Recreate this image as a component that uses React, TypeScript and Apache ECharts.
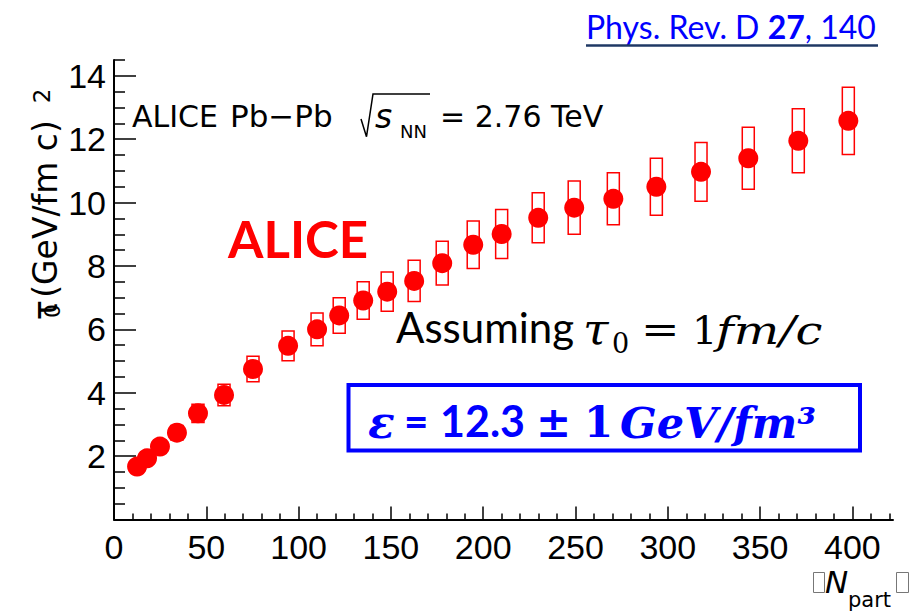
import React, { useEffect, useRef } from 'react';
import * as echarts from 'echarts';

// ---- data ----
const nPart = [12.5, 17.9, 24.9, 34.1, 45.5, 59.6, 75.3, 94.3, 110, 122, 135, 148, 162.6, 177.8, 194.6, 210, 229.8, 249.3, 270.5, 293.8, 318, 343.6, 370.7, 397.8];
const energyDensity = [1.67, 1.93, 2.3, 2.74, 3.35, 3.93, 4.75, 5.48, 6.0, 6.44, 6.91, 7.19, 7.53, 8.09, 8.67, 9.01, 9.52, 9.84, 10.12, 10.5, 10.97, 11.4, 11.95, 12.58];
const sysErr = [0.15, 0.17, 0.2, 0.23, 0.29, 0.34, 0.4, 0.47, 0.52, 0.56, 0.59, 0.62, 0.65, 0.69, 0.75, 0.77, 0.79, 0.84, 0.82, 0.9, 0.93, 0.98, 1.01, 1.06];

const xMajorTicks = [0, 50, 100, 150, 200, 250, 300, 350, 400];
const xMinorTicks = [10, 20, 30, 40, 60, 70, 80, 90, 110, 120, 130, 140, 160, 170, 180, 190, 210, 220, 230, 240, 260, 270, 280, 290, 310, 320, 330, 340, 360, 370, 380, 390, 410, 420];
const yMajorTicks = [2, 4, 6, 8, 10, 12, 14];
const yMinorTicks = [0.5, 1, 1.5, 2.5, 3, 3.5, 4.5, 5, 5.5, 6.5, 7, 7.5, 8.5, 9, 9.5, 10.5, 11, 11.5, 12.5, 13, 13.5, 14.5];

const SANS = 'DejaVu Sans';
const ARIAL = 'Liberation Sans';
const CAL = 'Lato';
const MATH = 'DejaVu Serif';

function txt(x: number, y: number, text: string, o: any = {}, rotation = 0, align = 'left') {
  return {
    type: 'text',
    x,
    y,
    rotation,
    scaleX: o.scaleX || 1,
    silent: true,
    style: {
      text,
      fill: o.fill || '#000',
      fontSize: o.size || 30,
      fontFamily: o.family || SANS,
      fontWeight: o.weight || 'normal',
      fontStyle: o.style || 'normal',
      align,
      textAlign: align,
      verticalAlign: 'middle',
      textVerticalAlign: 'middle',
      rich: o.rich,
    },
  };
}

export default function App() {
  const ref = useRef<HTMLDivElement>(null);
  useEffect(() => {
    const chart = echarts.init(ref.current!, null, { renderer: 'svg' });
    const axisLine = { show: true, lineStyle: { color: '#000', width: 2 } };
    const option: any = {
      animation: false,
      backgroundColor: '#fff',
      grid: { left: 114, right: 22, top: 60, bottom: 93.5, containLabel: false },
      xAxis: [
        {
          type: 'value', min: 0, max: 422, position: 'bottom',
          axisLine,
          axisTick: { show: true, inside: true, length: 13, lineStyle: { color: '#000', width: 1.5 }, customValues: xMajorTicks },
          axisLabel: { show: true, customValues: xMajorTicks, color: '#000', fontFamily: ARIAL, fontSize: 34, margin: 10, lineHeight: 34 },
          splitLine: { show: false },
        },
        {
          type: 'value', min: 0, max: 422, position: 'bottom',
          axisLine: { show: false },
          axisTick: { show: true, inside: true, length: 6, lineStyle: { color: '#000', width: 1.5 }, customValues: xMinorTicks },
          axisLabel: { show: false },
          splitLine: { show: false },
        },
      ],
      yAxis: [
        {
          type: 'value', min: 0, max: 14.5, position: 'left',
          axisLine,
          axisTick: { show: true, inside: true, length: 22, lineStyle: { color: '#000', width: 1.5 }, customValues: yMajorTicks },
          axisLabel: { show: true, customValues: yMajorTicks, color: '#000', fontFamily: ARIAL, fontSize: 34, margin: 8 },
          splitLine: { show: false },
        },
        {
          type: 'value', min: 0, max: 14.5, position: 'left',
          axisLine: { show: false },
          axisTick: { show: true, inside: true, length: 11, lineStyle: { color: '#000', width: 1.5 }, customValues: yMinorTicks },
          axisLabel: { show: false },
          splitLine: { show: false },
        },
      ],
      series: [
        {
          type: 'custom',
          xAxisIndex: 0,
          yAxisIndex: 0,
          data: nPart.map((x, i) => [x, energyDensity[i], sysErr[i]]),
          encode: { x: 0, y: 1 },
          renderItem: (params: any, api: any) => {
            const x = api.value(0);
            const y = api.value(1);
            const e = api.value(2);
            const top = api.coord([x, y + e]);
            const bot = api.coord([x, y - e]);
            const w = 12;
            return {
              type: 'rect',
              shape: { x: top[0] - w / 2, y: top[1], width: w, height: bot[1] - top[1] },
              style: { fill: 'none', stroke: '#ff0000', lineWidth: 1.5 },
            };
          },
          z: 2,
        },
        {
          type: 'scatter',
          xAxisIndex: 0,
          yAxisIndex: 0,
          data: nPart.map((x, i) => [x, energyDensity[i]]),
          symbol: 'circle',
          symbolSize: 20,
          itemStyle: { color: '#ff0000', opacity: 1 },
          z: 3,
        },
      ],
      graphic: {
        elements: [
          // reference link
          txt(586, 26, '{a|Phys. Rev. D }{b|27}{a|, 140}', {
            rich: {
              a: { fontFamily: CAL, fontSize: 32, fill: '#0000ff' },
              b: { fontFamily: CAL, fontSize: 32, fontWeight: 'bold', fill: '#0000ff' },
            },
          }),
          { type: 'line', silent: true, shape: { x1: 586, y1: 45.5, x2: 878, y2: 45.5 }, style: { stroke: '#1f3864', lineWidth: 2.5 } },
          // ALICE Pb-Pb sqrt(sNN)
          txt(132, 116.3, 'ALICE', { size: 30 }),
          txt(230, 116.3, 'Pb−Pb', { size: 31 }),
          { type: 'polyline', silent: true, shape: { points: [[361, 119], [366.5, 136.7], [373, 94], [430, 94]] }, style: { stroke: '#000', lineWidth: 1.5, fill: null } },
          txt(375, 116.3, 's', { size: 33, style: 'italic' }),
          txt(400, 131, 'NN', { size: 18 }),
          txt(440, 116.3, '= 2.76 TeV', { size: 30 }),
          // ALICE logo text
          txt(228, 238.6, 'ALICE', { family: CAL, size: 51, weight: 'bold', fill: '#ff0000' }),
          // Assuming tau0 = 1 fm/c
          txt(396, 327, 'Assuming', { family: CAL, size: 42 }),
          txt(583, 328.8, 'τ', { family: MATH, size: 42, style: 'italic', scaleX: 1.1 }),
          txt(612, 343.3, '0', { family: MATH, size: 27 }),
          txt(641, 329.5, '=', { family: MATH, size: 40, scaleX: 1.15 }),
          txt(692, 329.5, '1', { family: MATH, size: 40 }),
          txt(716, 329.5, 'fm/c', { family: MATH, size: 40, style: 'italic', scaleX: 1.2 }),
          // blue box
          { type: 'rect', silent: true, shape: { x: 348.5, y: 385, width: 511.5, height: 65.6 }, style: { fill: 'none', stroke: '#0000ff', lineWidth: 4 } },
          txt(368, 422, 'ε', { family: MATH, size: 44, weight: 'bold', style: 'italic', fill: '#0000ff' }),
          txt(404, 420.7, '=', { family: CAL, size: 42, weight: 'bold', fill: '#0000ff' }),
          txt(440, 420.7, '12.3', { family: CAL, size: 43, weight: 'bold', fill: '#0000ff' }),
          txt(536, 422, '±', { family: MATH, size: 42, weight: 'bold', fill: '#0000ff' }),
          txt(584, 422.5, '1', { family: MATH, size: 42, weight: 'bold', fill: '#0000ff' }),
          txt(620, 422.5, 'GeV/fm³', { family: MATH, size: 43, weight: 'bold', style: 'italic', fill: '#0000ff' }),
          // y axis title (rotated)
          txt(45, 209, '(GeV/fm c)', { size: 33, family: SANS }, Math.PI / 2, 'center'),
          txt(45, 310, 'τ', { size: 33 }, Math.PI / 2, 'center'),
          txt(52, 311, '0', { size: 22 }, Math.PI / 2, 'center'),
          txt(42, 96, '2', { size: 23 }, Math.PI / 2, 'center'),
          // x axis title
          { type: 'rect', silent: true, shape: { x: 813.5, y: 572.5, width: 11, height: 20 }, style: { fill: 'none', stroke: '#777', lineWidth: 1 } },
          txt(825, 582, 'N', { size: 31, style: 'italic' }),
          txt(848, 600, 'part', { size: 21 }),
          { type: 'rect', silent: true, shape: { x: 896.5, y: 572.5, width: 12, height: 20 }, style: { fill: 'none', stroke: '#777', lineWidth: 1 } },
        ],
      },
    };
    chart.setOption(option);
    return () => chart.dispose();
  }, []);
  return <div ref={ref} style={{ position: 'fixed', left: 0, top: 0, width: 915, height: 613, background: '#fff' }} />;
}
